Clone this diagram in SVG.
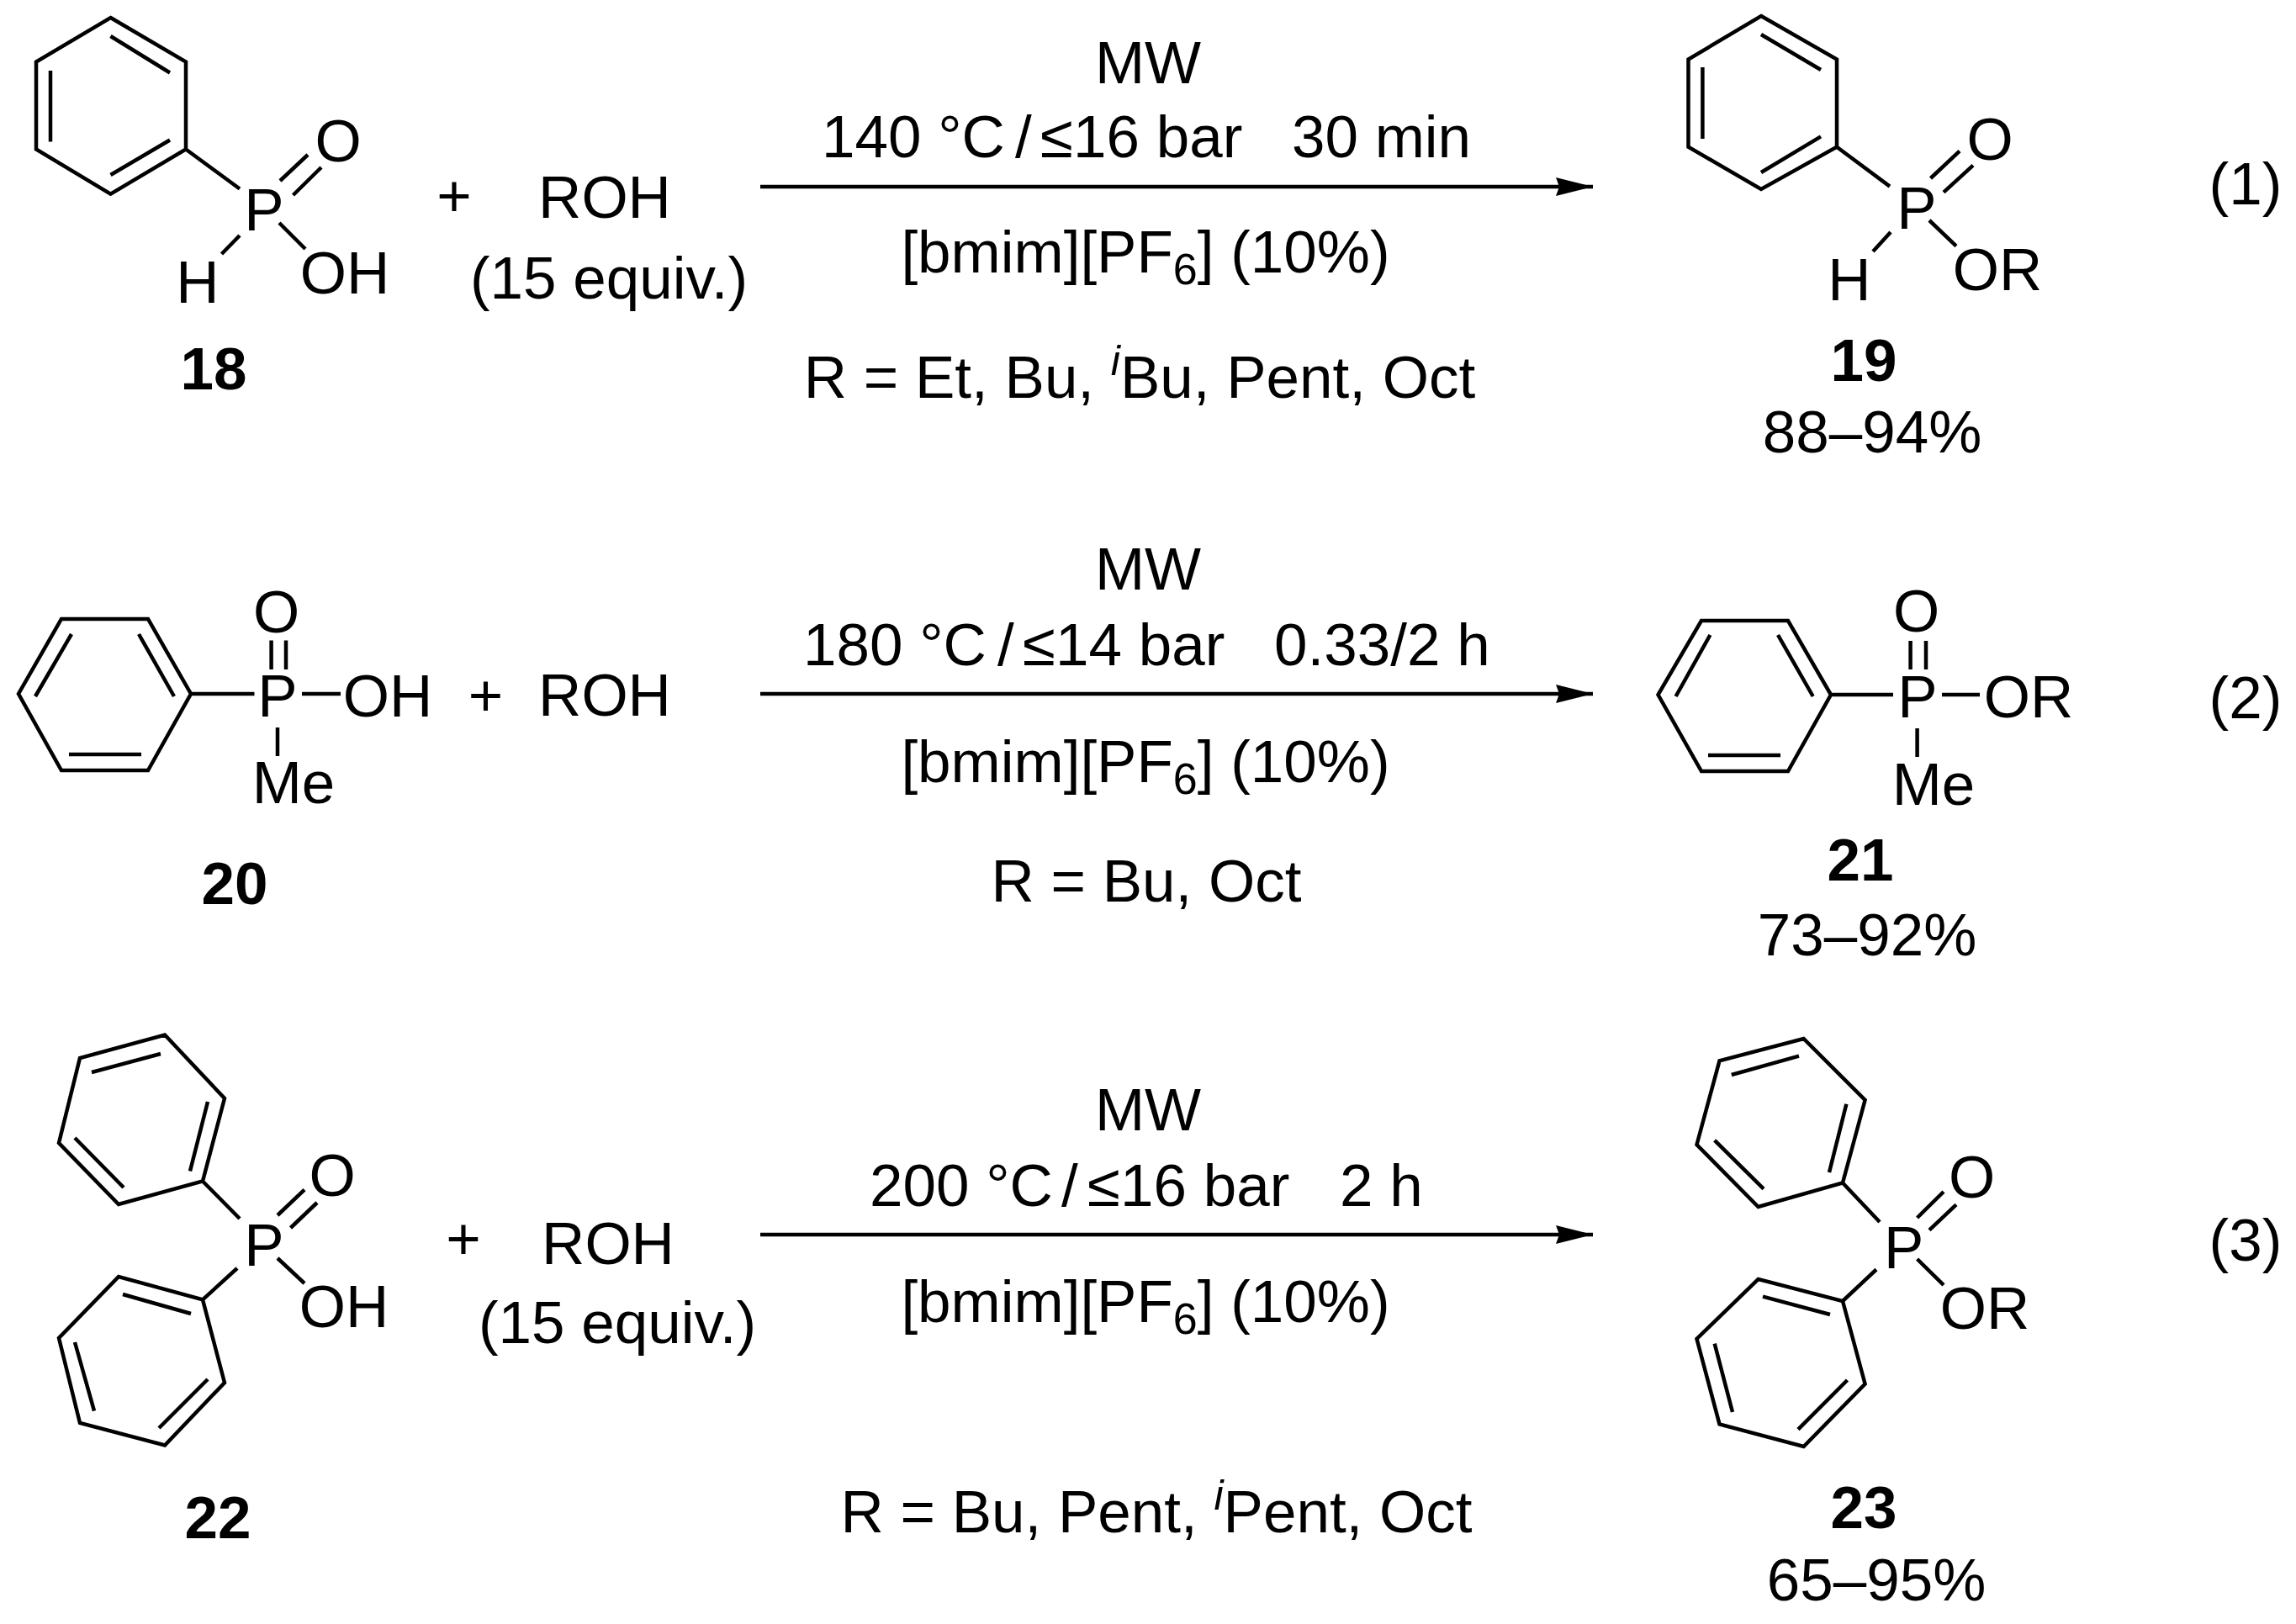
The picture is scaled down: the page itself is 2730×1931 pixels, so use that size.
<svg xmlns="http://www.w3.org/2000/svg" width="2730" height="1931" viewBox="0 0 2730 1931">
<style>
.bond{fill:none;stroke:#000;stroke-width:4.5;stroke-linejoin:miter;stroke-linecap:butt}
text{font-family:"Liberation Sans",Arial,sans-serif;font-size:71px;fill:#000}
.m{text-anchor:middle}
.bold{font-weight:700}
.sub{font-size:52px}
.ital{font-style:italic;font-size:50px}
.rxn{stroke:#000;stroke-width:4.5;fill:none;marker-end:url(#head)}
</style>
<defs>
<marker id="head" markerUnits="userSpaceOnUse" markerWidth="46" markerHeight="26" refX="44" refY="13" orient="auto">
<path d="M0 2 L44 13 L0 24 L4 13 Z" fill="#000"/>
</marker>
</defs>
<rect width="2730" height="1931" fill="#fff"/>

<g id="connectors">
<line class="rxn" x1="904" y1="222" x2="1894" y2="222"/>
<line class="rxn" x1="904" y1="825" x2="1894" y2="825"/>
<line class="rxn" x1="904" y1="1468" x2="1894" y2="1468"/>
</g>

<g id="compound-18">
<path class="bond" d="M131.5 21L221 73.500L221 177.500L131.500 230.600L43 177.500L43 73.500Z M131.500 43L202 86.500 M60 84V168.600 M131.500 208L202 166.500 M221 177.500L285 224.500 M333 215L366 184 M348.500 232L382 199 M332 265L363 296 M285 280L263.500 302"/>
<text class="m" x="314" y="274">P</text>
<text class="m" x="402" y="192">O</text>
<text class="m" x="235" y="360">H</text>
<text class="m" x="410" y="349">OH</text>
<text class="m bold" x="254" y="463">18</text>
</g>
<g id="reagent-1">
<text class="m" x="540" y="257">+</text>
<text class="m" x="719" y="259">ROH</text>
<text class="m" x="724" y="355">(15 equiv.)</text>
</g>
<g id="conditions-1">
<text class="m" x="1365" y="99">MW</text>
<text y="187"><tspan x="977">140 °C</tspan><tspan x="1207">/</tspan><tspan x="1237">≤16 bar</tspan><tspan x="1536">30 min</tspan></text>
<text class="m" x="1362" y="324">[bmim][PF<tspan class="sub" dy="14">6</tspan><tspan dy="-14">] (10%)</tspan></text>
<text class="m" x="1355" y="473">R = Et, Bu, <tspan class="ital" dy="-27">i</tspan><tspan dy="27">Bu, Pent, Oct</tspan></text>
</g>
<g id="compound-19">
<path class="bond" d="M2094 19L2184 70.600L2184 174.700L2094 225L2007.500 174.700L2007.500 70.600Z M2094 41L2165 83 M2024.400 80V165 M2094 205L2165 162.400 M2184 174.700L2247 221.600 M2295.500 212L2330 179.600 M2311 228.600L2346 196.700 M2294 262L2326 292.600 M2248 276L2227 299"/>
<text class="m" x="2279" y="272">P</text>
<text class="m" x="2366" y="190">O</text>
<text class="m" x="2199" y="357">H</text>
<text class="m" x="2375" y="345">OR</text>
<text class="m bold" x="2216" y="453">19</text>
<text class="m" x="2226" y="538">88–94%</text>
</g>
<g id="label-1"><text class="m" x="2670" y="243">(1)</text></g>

<g id="compound-20">
<path class="bond" d="M73 736H176L227 825L176 916H73L22 825Z M85 754L42 828 M165 754L207 828 M82 897H168 M227 825H302.500 M322.600 761.500V796 M340 761.500V796 M359 825H405 M330 865V899"/>
<text class="m" x="330" y="852">P</text>
<text class="m" x="328.600" y="752">O</text>
<text class="m" x="461" y="852">OH</text>
<text class="m" x="349" y="955">Me</text>
<text class="m bold" x="279" y="1075">20</text>
</g>
<g id="reagent-2">
<text class="m" x="577.600" y="851">+</text>
<text class="m" x="719" y="851">ROH</text>
</g>
<g id="conditions-2">
<text class="m" x="1365" y="701">MW</text>
<text y="791"><tspan x="955">180 °C</tspan><tspan x="1186">/</tspan><tspan x="1216">≤14 bar</tspan><tspan x="1515">0.33/2 h</tspan></text>
<text class="m" x="1362" y="930">[bmim][PF<tspan class="sub" dy="14">6</tspan><tspan dy="-14">] (10%)</tspan></text>
<text class="m" x="1363" y="1072">R = Bu, Oct</text>
</g>
<g id="compound-21">
<path class="bond" d="M2023 738H2126L2177 826L2126 917H2023L1971.500 826Z M2033.400 755L1992.600 828 M2114 755L2155.700 828 M2031 898H2117 M2177 826H2251 M2271.600 762V796 M2290 762V796 M2309 826H2354 M2279.600 866V900"/>
<text class="m" x="2280" y="853">P</text>
<text class="m" x="2278.500" y="751">O</text>
<text class="m" x="2412" y="853">OR</text>
<text class="m" x="2299" y="957">Me</text>
<text class="m bold" x="2212" y="1047">21</text>
<text class="m" x="2220" y="1136">73–92%</text>
</g>
<g id="label-2"><text class="m" x="2670" y="854">(2)</text></g>

<g id="compound-22">
<path class="bond" d="M196 1230.500L267 1306L241 1404.500L141 1432L70 1359L95 1258Z M109 1275L191 1253 M247 1310L226 1392.500 M89 1353L147 1412 M241 1404.500L285 1449 M330 1445L362 1414.600 M345.500 1460L377 1430 M330 1496L362 1526 M282 1508L241 1545.400 M241 1545.400L267 1644L196 1718.500L95 1692L70 1591L141 1518Z M227 1562L146 1539 M89 1596L112 1677.600 M247 1640L189 1698"/>
<text class="m" x="314" y="1505">P</text>
<text class="m" x="395" y="1422">O</text>
<text class="m" x="409" y="1578">OH</text>
<text class="m bold" x="259" y="1829">22</text>
</g>
<g id="reagent-3">
<text class="m" x="551" y="1497">+</text>
<text class="m" x="723" y="1503">ROH</text>
<text class="m" x="734" y="1597">(15 equiv.)</text>
</g>
<g id="conditions-3">
<text class="m" x="1365" y="1344">MW</text>
<text y="1434"><tspan x="1034">200 °C</tspan><tspan x="1262">/</tspan><tspan x="1293">≤16 bar</tspan><tspan x="1593">2 h</tspan></text>
<text class="m" x="1362" y="1572">[bmim][PF<tspan class="sub" dy="14">6</tspan><tspan dy="-14">] (10%)</tspan></text>
<text class="m" x="1375" y="1822">R = Bu, Pent, <tspan class="ital" dy="-27">i</tspan><tspan dy="27">Pent, Oct</tspan></text>
</g>
<g id="compound-23">
<path class="bond" d="M2144.600 1235L2217.600 1308L2191 1406.500L2090.600 1435L2017.500 1361L2044.500 1261.400Z M2058.800 1278L2139 1255.700 M2195.400 1312.700L2175 1394 M2038.700 1355.800L2097 1413.700 M2191 1406.500L2235 1453 M2279.600 1448L2311 1417 M2294 1462.600L2326 1432.400 M2279.600 1497L2311 1528 M2231 1509.500L2191 1547 M2191 1547L2217.600 1645.500L2144.600 1720L2044.500 1693.400L2017.500 1592L2090.600 1521Z M2176 1563L2096 1541.600 M2038.700 1597.600L2060 1679 M2196.500 1641L2138 1699.600"/>
<text class="m" x="2263.600" y="1508">P</text>
<text class="m" x="2344.700" y="1424">O</text>
<text class="m" x="2360" y="1580">OR</text>
<text class="m bold" x="2216" y="1817">23</text>
<text class="m" x="2231" y="1903">65–95%</text>
</g>
<g id="label-3"><text class="m" x="2670" y="1499">(3)</text></g>
</svg>
